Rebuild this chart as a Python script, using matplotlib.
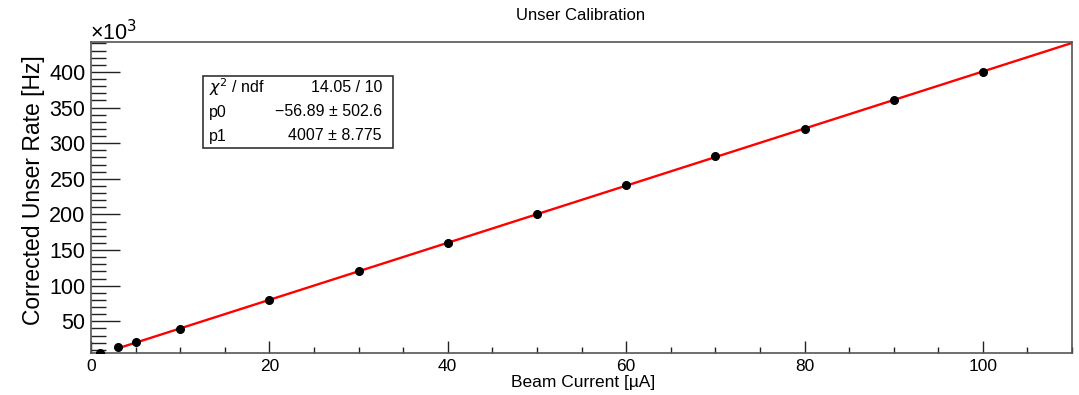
import numpy as np
import matplotlib
matplotlib.use("Agg")
import matplotlib.pyplot as plt
from matplotlib.patches import Rectangle
from matplotlib.ticker import MultipleLocator, FuncFormatter

plt.rcParams['font.family'] = ['Liberation Sans', 'DejaVu Sans']

# beam current (uA) and corrected unser rate (Hz)
current = [1, 3, 5, 10, 20, 30, 40, 50, 60, 70, 80, 90, 100]
rate = [5.5e3, 13.5e3, 20.5e3, 39.5e3, 80.0e3, 120.5e3, 159.5e3,
        200.0e3, 241.0e3, 282.0e3, 320.5e3, 360.0e3, 400.5e3]

# fit result pol1
p0 = -56.89
p1 = 4007
fit_range = [3, 110]
stat_rows = [("$\\chi^2$ / ndf", "14.05 / 10"),
             ("p0", "\u221256.89 \u00b1 502.6"),
             ("p1", "4007 \u00b1 8.775")]

W, H = 1079, 395
fig = plt.figure(figsize=(10.79, 3.95), dpi=100)
ax = fig.add_axes([0.0843, 0.1063, 0.9093, 0.7874])

xf = np.linspace(fit_range[0], fit_range[1], 200)
ax.plot(xf, p0 + p1 * xf, color='#ff0000', lw=1.7, zorder=2)
ax.plot(current, rate, 'o', color='black', ms=5.5, zorder=3)

ax.set_xlim(0, 110)
ax.set_ylim(5.5e3, 442e3)

ax.xaxis.set_major_locator(MultipleLocator(20))
ax.xaxis.set_minor_locator(MultipleLocator(5))
ax.yaxis.set_major_locator(MultipleLocator(50e3))
ax.yaxis.set_minor_locator(MultipleLocator(10e3))
ax.yaxis.set_major_formatter(FuncFormatter(lambda v, p: "%d" % round(v / 1e3)))

ax.tick_params(which='both', direction='in', top=False, right=False, color='#222222', width=1)
ax.tick_params(axis='x', which='major', length=9)
ax.tick_params(axis='x', which='minor', length=4.5)
ax.tick_params(axis='y', which='major', length=21)
ax.tick_params(axis='y', which='minor', length=10.5)
ax.tick_params(axis='y', labelsize=15.5, pad=4)
ax.tick_params(axis='x', labelsize=12.5, pad=4)

for s in ax.spines.values():
    s.set_color('#555555')
    s.set_linewidth(1.2)

ax.set_xlabel("Beam Current [\u00b5A]", fontsize=12.5)
ax.xaxis.set_label_coords((655 - 91) / 981, -0.072)
ax.xaxis.label.set_horizontalalignment('right')
ax.xaxis.label.set_verticalalignment('top')

ax.set_ylabel("Corrected Unser Rate [Hz]", fontsize=16.5)
ax.yaxis.set_label_coords(-0.047, 0.958)
ax.yaxis.label.set_horizontalalignment('right')

fig.text(581 / W, 1 - 16 / H, "Unser Calibration", ha='center', va='center', fontsize=12)
fig.text(90 / W, 1 - 40 / H, "\u00d710$^{3}$", ha='left', va='baseline', fontsize=15.5)

# stat box
bx0, by0, bx1, by1 = 203, 76, 393, 148
fig.patches.append(Rectangle((bx0 / W, 1 - by1 / H), (bx1 - bx0) / W, (by1 - by0) / H,
                             transform=fig.transFigure, facecolor='white',
                             edgecolor='#333333', lw=1.2, zorder=5))
row_y = [87, 112, 136]
for (name, val), yy in zip(stat_rows, row_y):
    fig.text(209 / W, 1 - yy / H, name, ha='left', va='center', fontsize=11.5, zorder=6)
    fig.text(382 / W, 1 - yy / H, val, ha='right', va='center', fontsize=11.5, zorder=6)

fig.savefig("out.png", dpi=100)
